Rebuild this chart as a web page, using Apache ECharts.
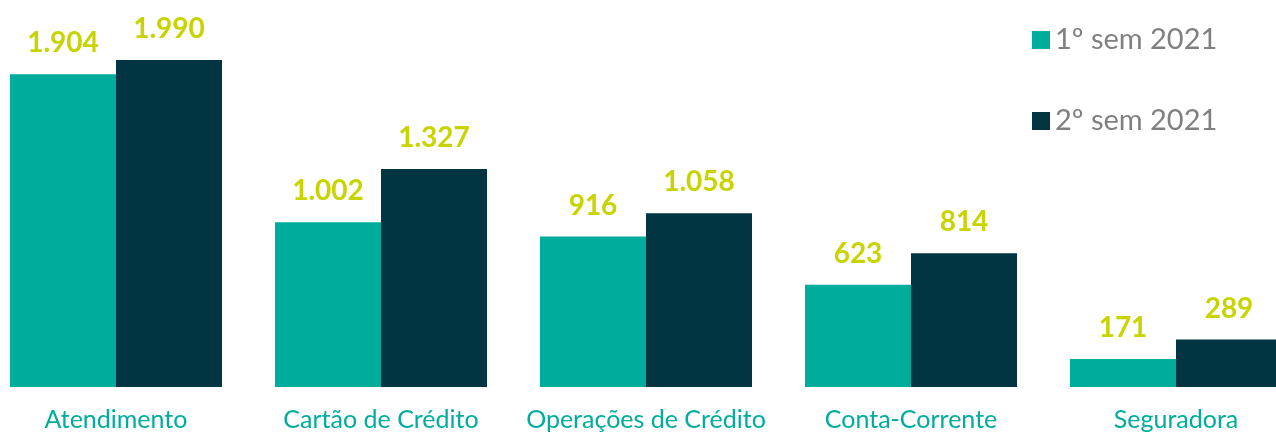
<!DOCTYPE html>
<html>
<head>
    <meta charset="utf-8" />
    <title>Reclamações por assunto</title>
    <style>
        html, body { margin: 0; padding: 0; background: #fff; }
    </style>
</head>
<body>
    <div id="divChart" style="width:1276px;height:434px;"></div>

    <script src="https://cdn.jsdelivr.net/npm/echarts@6/dist/echarts.min.js"></script>
    <script>
        var categorias = ['Atendimento', 'Cartão de Crédito', 'Operações de Crédito', 'Conta-Corrente', 'Seguradora'];
        var sem1 = [1904, 1002, 916, 623, 171];
        var sem2 = [1990, 1327, 1058, 814, 289];
        var nomes = ['1º sem 2021', '2º sem 2021'];

        function fmt(v) {
            // separador de milhar com ponto
            return String(v).replace(/\B(?=(\d{3})+(?!\d))/g, '.');
        }

        var rotulo = {
            show: true,
            position: 'top',
            distance: 17,
            color: '#c8d400',
            fontFamily: 'Lato',
            fontWeight: 'bold',
            fontSize: 28,
            formatter: function (p) { return fmt(p.value); }
        };

        var myChart = echarts.init(document.getElementById('divChart'));
        var option = {
            animation: false,
            color: ['#00ad9c', '#003541'],
            grid: { left: -16.5, width: 1325, top: 58.4, height: 328.6, outerBoundsMode: 'none', containLabel: false },
            legend: {
                orient: 'vertical',
                left: 1027,
                top: 20,
                itemWidth: 18,
                itemHeight: 18,
                itemGap: 51,
                icon: 'rect',
                textStyle: { color: '#808080', fontFamily: 'Lato', fontSize: 29, lineHeight: 30, padding: [0, 0, 0, 0] },
                data: nomes
            },
            xAxis: {
                type: 'category',
                data: categorias,
                axisLine: { show: false },
                axisTick: { show: false },
                axisLabel: { color: '#00ad9c', fontFamily: 'Lato', fontSize: 25, margin: 20, interval: 0 }
            },
            yAxis: {
                type: 'value',
                min: 0,
                max: 2000,
                show: false,
                splitLine: { show: false }
            },
            series: [
                { name: nomes[0], type: 'bar', data: sem1, barGap: '0%', barCategoryGap: '20%', label: rotulo },
                { name: nomes[1], type: 'bar', data: sem2, barGap: '0%', barCategoryGap: '20%', label: rotulo }
            ]
        };
        myChart.setOption(option);
    </script>
</body>
</html>
